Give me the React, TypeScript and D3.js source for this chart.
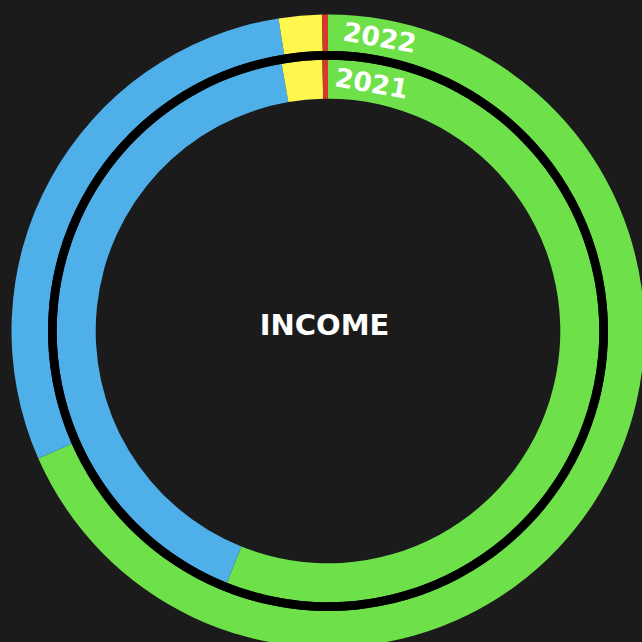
import React from "react";
import * as d3 from "d3";

const categories = ["Salary", "Business", "Investments", "Other"];
const values2022 = [68.4, 29.1, 2.2, 0.3];
const values2021 = [56.1, 41.2, 2.4, 0.33];
const years = ["2022", "2021"];
const centerLabel = "INCOME";
const colors = ["#6ee14a", "#4fafe9", "#fff64e", "#d6382a"];

const W = 642;
const H = 642;
const cx = 328;
const cy = 331;

export default function App() {
  const pie = d3
    .pie<number>()
    .sort(null)
    .value((d) => d)
    .startAngle(0)
    .endAngle(2 * Math.PI);

  const rings = [
    { year: years[0], values: values2022, inner: 280, outer: 316.5 },
    { year: years[1], values: values2021, inner: 232.3, outer: 271.3 },
  ];

  const labelAngle = (10 * Math.PI) / 180;

  return (
    <svg
      width={W}
      height={H}
      style={{ position: "absolute", left: 0, top: 0, display: "block" }}
    >
      <rect x={0} y={0} width={W} height={H} fill="#1b1b1b" />
      <g transform={`translate(${cx},${cy})`}>
        {rings.map((ring) => {
          const arc = d3
            .arc<d3.PieArcDatum<number>>()
            .innerRadius(ring.inner)
            .outerRadius(ring.outer);
          const arcs = pie(ring.values);
          const rm = (ring.inner + ring.outer) / 2;
          const lx = rm * Math.sin(labelAngle);
          const ly = -rm * Math.cos(labelAngle);
          return (
            <g key={ring.year}>
              {arcs.map((a, i) => (
                <path
                  key={categories[i]}
                  d={arc(a) || ""}
                  fill={colors[i]}
                />
              ))}
              <text
                x={0}
                y={0}
                transform={`translate(${lx},${ly}) rotate(${(labelAngle * 180) / Math.PI})`}
                textAnchor="middle"
                dominantBaseline="central"
                fill="#ffffff"
                fontFamily="'DejaVu Sans', sans-serif"
                fontWeight={700}
                fontSize={26.5}
              >
                {ring.year}
              </text>
            </g>
          );
        })}
        <path
          d={
            d3.arc()({
              innerRadius: 271.3,
              outerRadius: 280,
              startAngle: 0,
              endAngle: 2 * Math.PI,
            }) || ""
          }
          fill="#000000"
        />
        <text
          x={-3.5}
          y={-6}
          textAnchor="middle"
          dominantBaseline="central"
          fill="#ffffff"
          fontFamily="'DejaVu Sans', sans-serif"
          fontWeight={700}
          fontSize={29}
        >
          {centerLabel}
        </text>
      </g>
    </svg>
  );
}
